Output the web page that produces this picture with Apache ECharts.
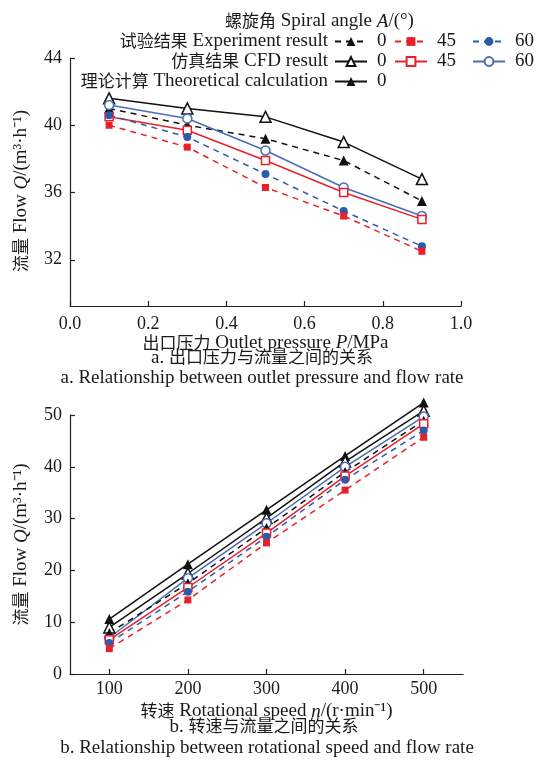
<!DOCTYPE html>
<html>
<head>
<meta charset="utf-8">
<script src="https://cdn.jsdelivr.net/npm/echarts@6/dist/echarts.min.js"></script>
<style>html,body{margin:0;padding:0;background:#fff}#c{width:541px;height:765px}</style>
</head>
<body>
<div id="c"></div>
<script>
// ---- data ----
const pressure = [0.1, 0.3, 0.5, 0.7, 0.9];
const a_exp0  = [41.0, 40.0, 39.2, 37.9, 35.5];
const a_exp45 = [40.0, 38.7, 36.3, 34.6, 32.5];
const a_exp60 = [40.6, 39.3, 37.1, 34.9, 32.8];
const a_cfd0  = [41.6, 41.0, 40.5, 39.0, 36.8];
const a_cfd45 = [40.5, 39.7, 37.9, 36.0, 34.4];
const a_cfd60 = [41.2, 40.4, 38.5, 36.3, 34.6];

const speed = [100, 200, 300, 400, 500];
const b_theory = [10.6, 21.2, 31.7, 42.1, 52.4];
const b_cfd0  = [9.0, 19.4, 30.1, 41.0, 50.8];
const b_cfd60 = [7.0, 18.5, 29.1, 40.0, 49.7];
const b_exp0  = [7.9, 17.5, 28.2, 39.0, 48.9];
const b_cfd45 = [6.6, 16.7, 27.2, 38.2, 48.3];
const b_exp60 = [6.0, 15.9, 26.5, 37.5, 47.0];
const b_exp45 = [4.9, 14.3, 25.3, 35.5, 45.7];

const aYTicks = [32, 36, 40, 44];
const bXTicks = [100, 200, 300, 400, 500];
const angleNames = {e0:'0', e45:'45', e60:'60', c0:'0', c45:'45', c60:'60', t0:'0'};

// ---- styles ----
const FF = '"Liberation Serif", "Times New Roman", serif';
const CJK = '"Noto Sans CJK SC", sans-serif';
const TC = '#1a1a1a';
const BLACK = '#111', RED = '#e8202c', BLUE = '#2f5aa6', BLUE2 = '#4a6db3';
const FS = 19, FSC = 17, FST = 18;
const rich = {
  i: {fontStyle: 'italic', fontFamily: FF, fontSize: FS, color: TC},
  c: {fontFamily: CJK, fontSize: FSC, color: TC, padding: [0, 0, 2, 0]},
  t: {fontFamily: FF, fontSize: FS, color: TC}
};
function R(s) {
  return s.replace(/([\u3400-\u9fff]+)/g, '{c|$1}');
}

function mk(name, xs, ys, color, symbol, size, open, dashed, gi) {
  return {
    type: 'line', name: name, xAxisIndex: gi, yAxisIndex: gi,
    data: xs.map((x, i) => [x, ys[i]]),
    symbol: symbol, symbolSize: size, clip: false,
    showAllSymbol: true,
    lineStyle: {color: color, width: 1.5, type: dashed ? [6, 5] : 'solid'},
    itemStyle: open ? {color: '#fff', borderColor: color, borderWidth: 1.5}
                    : {color: color, borderWidth: 0},
    emphasis: {disabled: true},
    animation: false
  };
}

const series = [
  mk('c0',  pressure, a_cfd0,  BLACK, 'triangle', 11, true,  false, 0),
  mk('e0',  pressure, a_exp0,  BLACK, 'triangle', 10, false, true,  0),
  mk('c60', pressure, a_cfd60, BLUE2, 'circle',   9,  true,  false, 0),
  mk('c45', pressure, a_cfd45, RED,   'rect',     8,  true,  false, 0),
  mk('e60', pressure, a_exp60, BLUE,  'circle',   8,  false, true,  0),
  mk('e45', pressure, a_exp45, RED,   'rect',     7,  false, true,  0),

  mk('t0',  speed, b_theory, BLACK, 'triangle', 10, false, false, 1),
  mk('c0',  speed, b_cfd0,   BLACK, 'triangle', 11, true,  false, 1),
  mk('c60', speed, b_cfd60,  BLUE2, 'circle',   9,  true,  false, 1),
  mk('e0',  speed, b_exp0,   BLACK, 'triangle', 10, false, true,  1),
  mk('c45', speed, b_cfd45,  RED,   'rect',     8,  true,  false, 1),
  mk('e60', speed, b_exp60,  BLUE,  'circle',   8,  false, true,  1),
  mk('e45', speed, b_exp45,  RED,   'rect',     7,  false, true,  1)
];

function leg(name, left, yc) {
  return {
    data: [name], left: left, top: yc - 10, padding: 0,
    itemWidth: 32, itemHeight: 11, selectedMode: false,
    formatter: n => angleNames[n],
    textStyle: {fontFamily: FF, fontSize: FS, color: TC, padding: [0, 0, 0, 5]}
  };
}

const axisLine = {show: true, lineStyle: {color: '#222', width: 1.2}};
const axisTick = {show: true, inside: true, length: 5, lineStyle: {color: '#222', width: 1.2}};
const label = {fontFamily: FF, fontSize: FST, color: TC};
const nameStyle = {fontFamily: FF, fontSize: FS, color: TC, rich: rich};

function txt(s, opts) {
  return Object.assign({type: 'text', style: {text: R(s), font: FS + 'px ' + FF, fill: TC, rich: rich}}, opts);
}
function ctxt(s, x, y) {
  return {type: 'text', x: x, y: y, style: {text: R(s), font: FS + 'px ' + FF, fill: TC, rich: rich, align: 'center', verticalAlign: 'middle'}};
}

const option = {
  backgroundColor: '#fff',
  animation: false,
  grid: [
    {left: 70, right: 80, top: 58, bottom: 459},
    {left: 70, right: 78, top: 415, bottom: 91}
  ],
  legend: [
    leg('e0', 334, 42), leg('e45', 394, 42), leg('e60', 472, 42),
    leg('c0', 334, 62), leg('c45', 394, 62), leg('c60', 472, 62),
    leg('t0', 334, 82)
  ],
  xAxis: [
    {
      type: 'value', gridIndex: 0, min: 0, max: 1, interval: 0.2,
      axisLine: axisLine, axisTick: axisTick, splitLine: {show: false},
      axisLabel: Object.assign({margin: 9, formatter: v => v.toFixed(1)}, label),
      name: R('出口压力 Outlet pressure ') + '{i|P}/MPa', nameLocation: 'middle', nameGap: 21,
      nameTextStyle: nameStyle
    },
    {
      type: 'value', gridIndex: 1, min: 50, max: 550,
      axisLine: axisLine, splitLine: {show: false},
      axisTick: Object.assign({customValues: bXTicks}, axisTick),
      axisLabel: Object.assign({margin: 6, customValues: bXTicks}, label),
      name: R('转速 Rotational speed ') + '{i|n}/(r·min⁻¹)', nameLocation: 'middle', nameGap: 28,
      nameTextStyle: nameStyle
    }
  ],
  yAxis: [
    {
      type: 'value', gridIndex: 0, min: 29.25, max: 44,
      axisLine: axisLine, splitLine: {show: false},
      axisTick: Object.assign({customValues: aYTicks}, axisTick),
      axisLabel: Object.assign({margin: 8, customValues: aYTicks}, label),
      name: R('流量 Flow ') + '{i|Q}/(m³·h⁻¹)', nameLocation: 'middle', nameGap: 39, nameRotate: 90,
      nameTextStyle: Object.assign({padding: [0, 18, 0, 0]}, nameStyle)
    },
    {
      type: 'value', gridIndex: 1, min: 0, max: 50, interval: 10,
      axisLine: axisLine, axisTick: axisTick, splitLine: {show: false},
      axisLabel: Object.assign({margin: 8}, label),
      name: R('流量 Flow ') + '{i|Q}/(m³·h⁻¹)', nameLocation: 'middle', nameGap: 39, nameRotate: 90,
      nameTextStyle: nameStyle
    }
  ],
  graphic: [
    {type: 'text', left: 225, top: 12, style: {text: R('螺旋角 Spiral angle ') + '{i|A}/(°)', font: FS + 'px ' + FF, fill: TC, rich: rich}},
    txt('试验结果 Experiment result', {right: 541 - 328, top: 32}),
    txt('仿真结果 CFD result', {right: 541 - 328, top: 52}),
    txt('理论计算 Theoretical calculation', {right: 541 - 328, top: 72}),
    ctxt('a. 出口压力与流量之间的关系', 262, 358),
    ctxt('a. Relationship between outlet pressure and flow rate', 262, 378),
    ctxt('b. 转速与流量之间的关系', 264, 727),
    ctxt('b. Relationship between rotational speed and flow rate', 267, 748)
  ],
  series: series
};

const chart = echarts.init(document.getElementById('c'), null, {renderer: 'canvas'});
chart.setOption(option);
</script>
</body>
</html>
